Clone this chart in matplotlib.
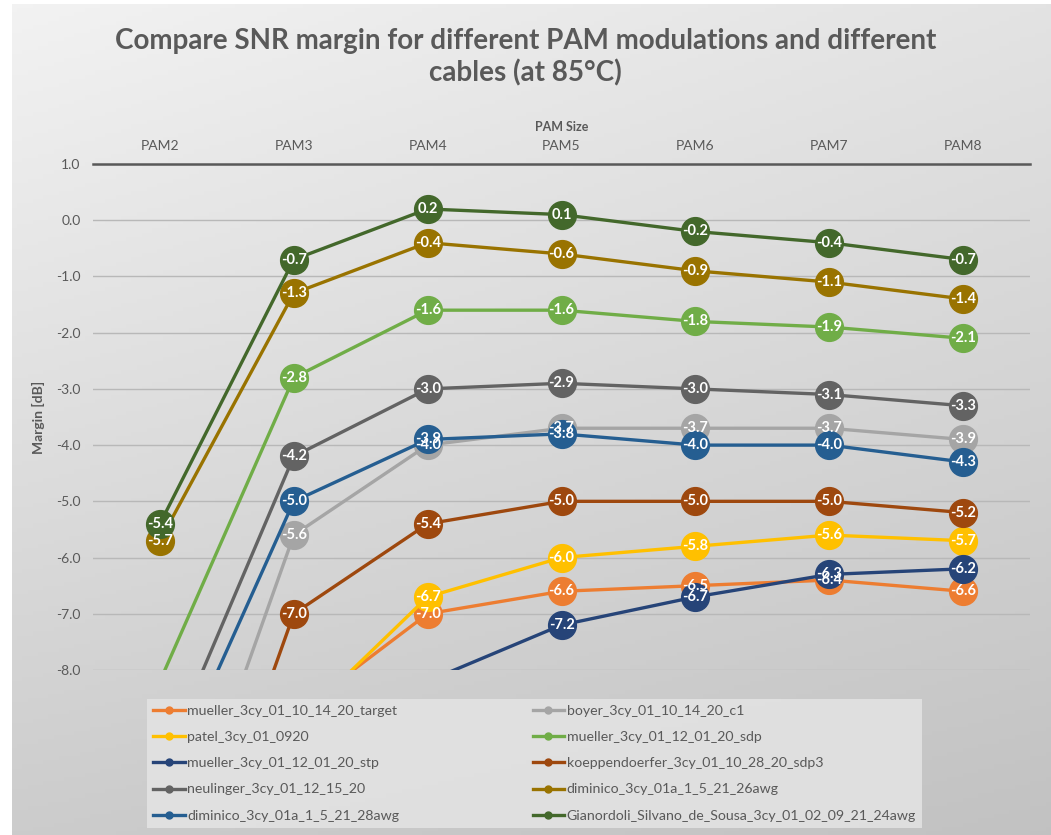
import numpy as np
import matplotlib
matplotlib.use("Agg")
import matplotlib.pyplot as plt
from matplotlib.lines import Line2D

plt.rcParams["font.family"] = ["Lato", "DejaVu Sans"]

# -----------------------------------------------------------------------
# Data (NaN = no point; values below -8 are off-scale and clipped)
# -----------------------------------------------------------------------
pam_sizes = ["PAM2", "PAM3", "PAM4", "PAM5", "PAM6", "PAM7", "PAM8"]
nan = np.nan

mueller_target = [nan, -8.8, -7.0, -6.6, -6.5, -6.4, -6.6]
boyer_c1       = [-12.3, -5.6, -4.0, -3.7, -3.7, -3.7, -3.9]
patel          = [nan, -9.0, -6.7, -6.0, -5.8, -5.6, -5.7]
mueller_sdp    = [-8.2, -2.8, -1.6, -1.6, -1.8, -1.9, -2.1]
mueller_stp    = [nan, nan, -8.2, -7.2, -6.7, -6.3, -6.2]
koeppendoerfer = [-13.7, -7.0, -5.4, -5.0, -5.0, -5.0, -5.2]
neulinger      = [-9.8, -4.2, -3.0, -2.9, -3.0, -3.1, -3.3]
diminico_26awg = [-5.7, -1.3, -0.4, -0.6, -0.9, -1.1, -1.4]
diminico_28awg = [-10.3, -5.0, -3.9, -3.8, -4.0, -4.0, -4.3]
gianordoli     = [-5.4, -0.7, 0.2, 0.1, -0.2, -0.4, -0.7]

series = [
    ("mueller_3cy_01_10_14_20_target", mueller_target, "#ED7D31"),
    ("boyer_3cy_01_10_14_20_c1", boyer_c1, "#A5A5A5"),
    ("patel_3cy_01_0920", patel, "#FFC000"),
    ("mueller_3cy_01_12_01_20_sdp", mueller_sdp, "#70AD47"),
    ("mueller_3cy_01_12_01_20_stp", mueller_stp, "#264478"),
    ("koeppendoerfer_3cy_01_10_28_20_sdp3", koeppendoerfer, "#9E480E"),
    ("neulinger_3cy_01_12_15_20", neulinger, "#636363"),
    ("diminico_3cy_01a_1_5_21_26awg", diminico_26awg, "#997300"),
    ("diminico_3cy_01a_1_5_21_28awg", diminico_28awg, "#255E91"),
    ("Gianordoli_Silvano_de_Sousa_3cy_01_02_09_21_24awg", gianordoli, "#43682B"),
]

ymin, ymax = -8.0, 1.0
txt_col = "#595959"

# -----------------------------------------------------------------------
# Figure + gradient background
# -----------------------------------------------------------------------
W, H = 1051, 835
fig = plt.figure(figsize=(W / 100, H / 100), dpi=100)
fig.patch.set_facecolor("white")

bg = fig.add_axes([12 / W, 0, 1 - 12 / W, 1 - 4 / H], zorder=-10)
gx, gy = np.meshgrid(np.linspace(0, 1, 200), np.linspace(0, 1, 200))
shade = 0.95 - 0.06 * gx - 0.15 * gy + 0.02 * gx * gy
bg.imshow(np.dstack([shade] * 3), aspect="auto", extent=(0, 1, 1, 0))
bg.set_axis_off()

ax = fig.add_axes([93 / W, 1 - 670 / H, (1030 - 93) / W, (670 - 164) / H])
ax.set_facecolor("none")

x = np.arange(len(pam_sizes))
handles = {}
for name, vals, col in series:
    v = np.array(vals, dtype=float)
    ax.plot(x, v, color=col, lw=2.4, zorder=3, solid_capstyle="round")
    vis = (v >= ymin) & (v <= ymax)
    ax.plot(x[vis], v[vis], "o", color=col, ms=20, mec=col, zorder=3)
    for xi, yi in zip(x[vis], v[vis]):
        ax.text(xi, yi, f"{yi:.1f}", color="white", fontsize=10.5,
                fontweight="bold", ha="center", va="center", zorder=10)
    handles[name] = Line2D([], [], color=col, lw=2.4, marker="o", ms=5)

ax.set_ylim(ymin, ymax)
ax.set_xlim(-0.5, len(pam_sizes) - 0.5)
ax.set_yticks(np.arange(-8, 1.5, 1.0))
ax.set_yticklabels([f"{t:.1f}" for t in np.arange(-8, 1.5, 1.0)])
ax.grid(axis="y", color="#B8B8B8", lw=1.0, zorder=0)
ax.set_axisbelow(True)

ax.xaxis.tick_top()
ax.xaxis.set_label_position("top")
ax.set_xticks(x)
ax.set_xticklabels(pam_sizes)
ax.set_xlabel("PAM Size", fontsize=9, fontweight="bold", color=txt_col, labelpad=6)
ax.set_ylabel("Margin [dB]", fontsize=10, fontweight="bold", color=txt_col, labelpad=8)
ax.tick_params(length=0, labelsize=10, labelcolor=txt_col, pad=9)

for s in ["left", "right", "bottom"]:
    ax.spines[s].set_visible(False)
ax.spines["top"].set_color("#595959")
ax.spines["top"].set_linewidth(1.8)

fig.text(0.5, 1 - 57 / H,
         "Compare SNR margin for different PAM modulations and different\ncables (at 85°C)",
         ha="center", va="center", fontsize=20, fontweight="bold", color=txt_col,
         linespacing=1.25)

# legend: two columns, filled column-first
order = [0, 2, 4, 6, 8, 1, 3, 5, 7, 9]
leg = fig.legend([handles[series[i][0]] for i in order],
                 [series[i][0] for i in order],
                 ncol=2, loc="lower left",
                 bbox_to_anchor=(147 / W, 7 / H),
                 fontsize=10.2, frameon=True, fancybox=False,
                 handlelength=2.2, handletextpad=0.2, labelspacing=1.0,
                 columnspacing=9.4, borderaxespad=0, borderpad=0.45)
leg.get_frame().set_facecolor("#E4E4E4")
leg.get_frame().set_edgecolor("none")
leg.get_frame().set_alpha(0.85)
for t in leg.get_texts():
    t.set_color(txt_col)

fig.savefig("out.png", dpi=100)
